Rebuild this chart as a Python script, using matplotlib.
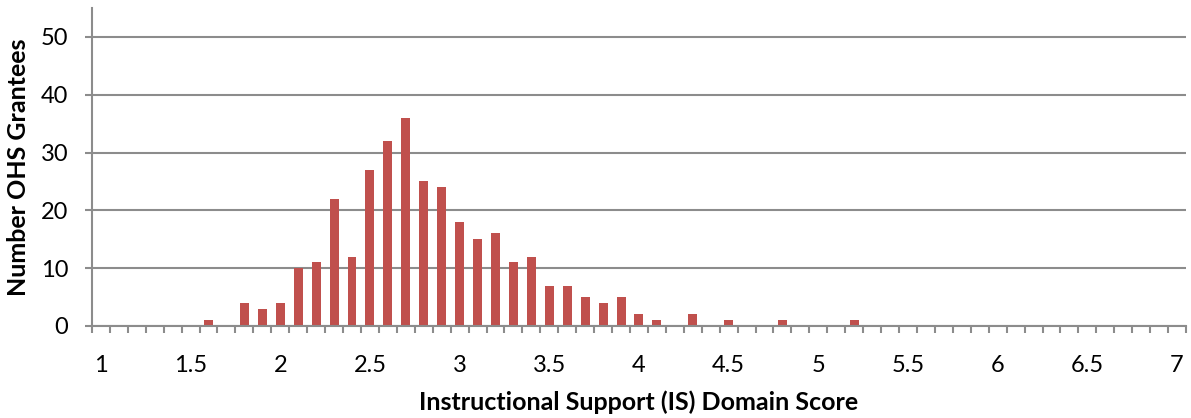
import matplotlib
matplotlib.use("Agg")
import matplotlib.pyplot as plt
import numpy as np

# Categories: scores 1.0 .. 7.0 in steps of 0.1
scores = [round(1.0 + 0.1 * i, 1) for i in range(61)]
counts_by_score = {
    1.6: 1, 1.8: 4, 1.9: 3, 2.0: 4, 2.1: 10, 2.2: 11, 2.3: 22, 2.4: 12,
    2.5: 27, 2.6: 32, 2.7: 36, 2.8: 25, 2.9: 24, 3.0: 18, 3.1: 15, 3.2: 16,
    3.3: 11, 3.4: 12, 3.5: 7, 3.6: 7, 3.7: 5, 3.8: 4, 3.9: 5, 4.0: 2,
    4.1: 1, 4.3: 2, 4.5: 1, 4.8: 1, 5.2: 1,
}
counts = [counts_by_score.get(s, 0) for s in scores]
tick_labels = ["1", "1.5", "2", "2.5", "3", "3.5", "4", "4.5", "5", "5.5", "6", "6.5", "7"]
y_ticks = [0, 10, 20, 30, 40, 50]

plt.rcParams['font.family'] = ['Lato', 'DejaVu Sans']

fig = plt.figure(figsize=(11.91, 4.18), dpi=100)
ax = fig.add_axes([0.0772, 0.2201, 0.9958 - 0.0772, 0.9809 - 0.2201])

x = np.arange(len(scores))
grid_color = "#8c8c8c"
ax.bar(x, counts, width=0.5, color="#C0504D", zorder=3)

ax.set_xlim(-0.5, len(scores) - 0.5)
ax.set_ylim(0, 55)
ax.set_yticks(y_ticks)
ax.set_yticklabels([str(v) for v in y_ticks], fontsize=17)
ax.yaxis.grid(True, color=grid_color, linewidth=1.5, zorder=0)
ax.set_axisbelow(True)

label_pos = [i for i, s in enumerate(scores) if abs(s * 2 - round(s * 2)) < 1e-6]
ax.set_xticks(label_pos)
ax.set_xticklabels(tick_labels, fontsize=17)
ax.set_xticks(np.arange(-0.5, len(scores), 1.0), minor=True)
ax.tick_params(axis='x', which='major', length=0, pad=21)
ax.tick_params(axis='x', which='minor', length=5, width=1.5, color=grid_color)
ax.tick_params(axis='y', which='major', length=5, width=1.5, color=grid_color, pad=12)

for s in ['top', 'right']:
    ax.spines[s].set_visible(False)
for s in ['left', 'bottom']:
    ax.spines[s].set_color(grid_color)
    ax.spines[s].set_linewidth(1.5)
ax.spines['bottom'].set_zorder(4)

ax.set_xlabel("Instructional Support (IS) Domain Score", fontsize=18, fontweight='bold', labelpad=10)
ax.set_ylabel("Number OHS Grantees", fontsize=18, fontweight='bold', labelpad=8)

fig.savefig("out.png", dpi=100)
